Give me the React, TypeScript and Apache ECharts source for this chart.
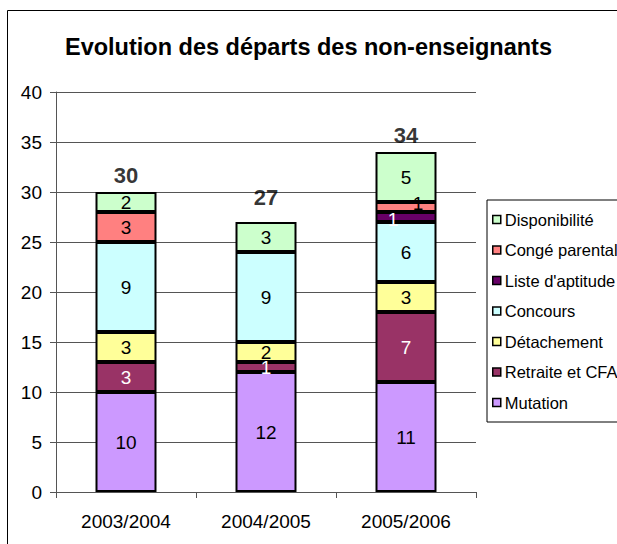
import React, { useEffect, useRef } from "react";
import * as echarts from "echarts";

const categories = ["2003/2004", "2004/2005", "2005/2006"];
const mutation = [10, 12, 11];
const retraiteCFA = [3, 1, 7];
const detachement = [3, 2, 3];
const concours = [9, 9, 6];
const listeAptitude = [0, 0, 1];
const congeParental = [3, 0, 1];
const disponibilite = [2, 3, 5];
const yTicks = { min: 0, max: 40, interval: 5 };

const FONT = "'Liberation Sans', Arial, sans-serif";

type SeriesDef = {
  name: string;
  data: number[];
  color: string;
  labelColor: string;
  offsets?: ([number, number] | null)[];
};

const seriesDefs: SeriesDef[] = [
  { name: "Mutation", data: mutation, color: "#CC99FF", labelColor: "#000" },
  { name: "Retraite et CFA", data: retraiteCFA, color: "#993366", labelColor: "#fff" },
  { name: "Détachement", data: detachement, color: "#FFFF99", labelColor: "#000" },
  { name: "Concours", data: concours, color: "#CCFFFF", labelColor: "#000" },
  {
    name: "Liste d'aptitude",
    data: listeAptitude,
    color: "#660066",
    labelColor: "#fff",
    offsets: [null, null, [-13, 2]],
  },
  {
    name: "Congé parental",
    data: congeParental,
    color: "#FF8080",
    labelColor: "#000",
    offsets: [null, null, [12, -4]],
  },
  { name: "Disponibilité", data: disponibilite, color: "#CCFFCC", labelColor: "#000" },
];

const totalOffsets: [number, number][] = [[0, 0], [0, -8], [0, 0]];

export default function App() {
  const ref = useRef<HTMLDivElement>(null);

  useEffect(() => {
    if (!ref.current) return;
    const chart = echarts.init(ref.current, null, { renderer: "svg" });

    const totals = categories.map((_, i) =>
      seriesDefs.reduce((s, d) => s + d.data[i], 0)
    );

    const barSeries = seriesDefs.map((d) => ({
      name: d.name,
      type: "bar",
      stack: "total",
      barWidth: 61,
      itemStyle: { color: d.color, borderColor: "#000", borderWidth: 2 },
      label: {
        show: true,
        position: "inside",
        color: d.labelColor,
        fontSize: 19,
        fontFamily: FONT,
        formatter: (p: any) => (p.value ? String(p.value) : ""),
      },
      data: d.data.map((v, i) => {
        if (!v) return null;
        const off = d.offsets ? d.offsets[i] : null;
        return off ? { value: v, label: { offset: off } } : v;
      }),
    }));

    const option: any = {
      animation: false,
      backgroundColor: "#fff",
      title: {
        text: "Evolution des départs des non-enseignants",
        left: "center",
        top: 35,
        padding: 0,
        textStyle: { fontSize: 23.5, fontWeight: "bold", color: "#000", fontFamily: FONT },
      },
      graphic: [
        {
          type: "rect",
          shape: { x: 7.5, y: 10.5, width: 800, height: 800 },
          style: { fill: "none", stroke: "#000", lineWidth: 1 },
          silent: true,
        },
      ],
      legend: {
        orient: "vertical",
        left: 487,
        top: 200,
        padding: [11, 40, 11, 5],
        itemGap: 13.5,
        itemWidth: 8,
        itemHeight: 8,
        icon: "rect",
        borderColor: "#000",
        borderWidth: 1,
        backgroundColor: "#fff",
        itemStyle: { borderColor: "#000", borderWidth: 1.5 },
        textStyle: { fontSize: 16.5, color: "#000", fontFamily: FONT, padding: [0, 0, 0, -1] },
        data: seriesDefs.map((d) => d.name).reverse(),
      },
      grid: { left: 56, right: 141, top: 92, bottom: 52, containLabel: false },
      xAxis: {
        type: "category",
        data: categories,
        axisLine: { lineStyle: { color: "#555", width: 1 } },
        axisTick: { show: true, length: 6, lineStyle: { color: "#555" } },
        axisLabel: { fontSize: 19, color: "#000", fontFamily: FONT, margin: 20 },
      },
      yAxis: {
        type: "value",
        min: yTicks.min,
        max: yTicks.max,
        interval: yTicks.interval,
        axisLine: { show: true, lineStyle: { color: "#555", width: 1 } },
        axisTick: { show: true, length: 6, lineStyle: { color: "#555" } },
        axisLabel: { fontSize: 19, color: "#000", fontFamily: FONT, margin: 14 },
        splitLine: { show: true, lineStyle: { color: "#555", width: 1 } },
      },
      series: [
        ...barSeries,
        {
          name: "total",
          type: "scatter",
          symbolSize: 0,
          silent: true,
          label: {
            show: true,
            position: "top",
            distance: 6,
            fontSize: 22,
            fontWeight: "bold",
            color: "#000",
            fontFamily: FONT,
            formatter: (p: any) => String(p.value),
          },
          data: totals.map((t, i) => ({ value: t, label: { offset: totalOffsets[i] } })),
        },
      ],
    };

    chart.setOption(option);
    return () => chart.dispose();
  }, []);

  return (
    <div
      ref={ref}
      style={{ position: "fixed", left: 0, top: 0, width: 617, height: 544 }}
    />
  );
}
